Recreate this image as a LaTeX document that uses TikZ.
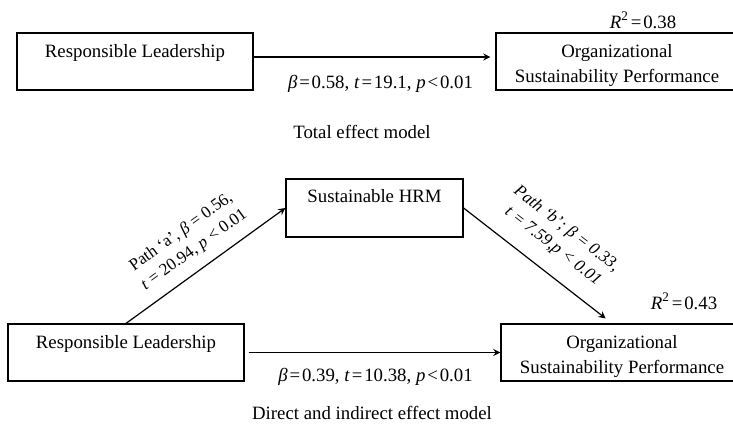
\documentclass[tikz,border=0pt]{standalone}
\usepackage{fontspec}
\setmainfont{Liberation Serif}
\usetikzlibrary{positioning, arrows}
\newcommand\teq{\hspace{.1em}=\hspace{.1em}}
\newcommand\tlt{\hspace{.1em}<\hspace{.1em}}
\newcommand\ostop{\rule{0pt}{12.5pt}}
\newcommand\osbot{\rule[-3.5pt]{0pt}{3.5pt}}

\begin{document}
\begin{tikzpicture} [node distance = 2cm, on grid,
        font = \fontsize{9.4pt}{12.5pt}\selectfont,
        box/.style = {draw, semithick, minimum width = 118pt, minimum height = 28.5pt, inner sep = 0pt},
        boxtop/.style = {box, text height = 12.5pt, text depth = 16pt},
        boxtwo/.style = {box, align = center, minimum width = 121pt},
        slab/.style = {font = \fontsize{8.5pt}{11pt}\selectfont, align = center, sloped, midway, above = 2.25pt},
        slabit/.style = {slab, font = \fontsize{8.5pt}{11pt}\selectfont\itshape, above = 4.75pt}]

        \useasboundingbox (0,0) rectangle (366.5pt,-213pt);

        \node (rl1) [boxtop] at (67.5pt,-30.75pt) {Responsible Leadership}; \node (osp1)
        [boxtwo, right = 241pt of rl1] {\ostop Organizational\\Sustainability Performance\osbot};
        \node (r1) [above = 20.75pt of osp1, xshift = 13pt] {\textit{R}\textsuperscript{2}\teq 0.38};
        \node (cap1) at (181pt,-66pt) {Total effect model};

        \node (hrm) [box, minimum width = 88.5pt, minimum height = 29pt, text height = 12pt,
        text depth = 17pt, below right = 73.25pt and 119.75pt of rl1] {Sustainable HRM};
        \node (rl2) [boxtop, below = 145.5pt of rl1, xshift = -4.5pt] {Responsible Leadership};
        \node (osp2) [boxtwo, right = 248pt of rl2] {\ostop Organizational\\Sustainability Performance\osbot};
        \node (r2) [above = 25.75pt of osp2, xshift = 31pt] {\textit{R}\textsuperscript{2}\teq 0.43};
        \node (cap2) at (186pt,-206.5pt) {Direct and indirect effect model};

        \path [-stealth, semithick]
            ([yshift = 2.25pt] rl1.east) edge [shorten >= 2.5pt] node [yshift = -13.5pt, xshift = 3pt]
            {\textit{β}\teq 0.58, \textit{t}\teq 19.1, \textit{p}\tlt 0.01} ([yshift = 2.25pt] osp1.west)
            (rl2.east) edge [shorten <= 2pt] node [yshift = -12pt, xshift = 1.5pt]
            {\textit{β}\teq 0.39, \textit{t}\teq 10.38, \textit{p}\tlt 0.01} (rl2.east -| osp2.west)
            (rl2.north) edge node [slab] {Path ‘a’, \textit{β} = 0.56,\\\textit{t} = 20.94, \textit{p} < 0.01} (hrm.west)
            (hrm.east) edge [shorten >= 4pt] node [slabit] {Path ‘b’; β = 0.33,\\t = 7.59,p < 0.01}
            ([xshift = -5pt] osp2.north);
    \end{tikzpicture}
\end{document}
